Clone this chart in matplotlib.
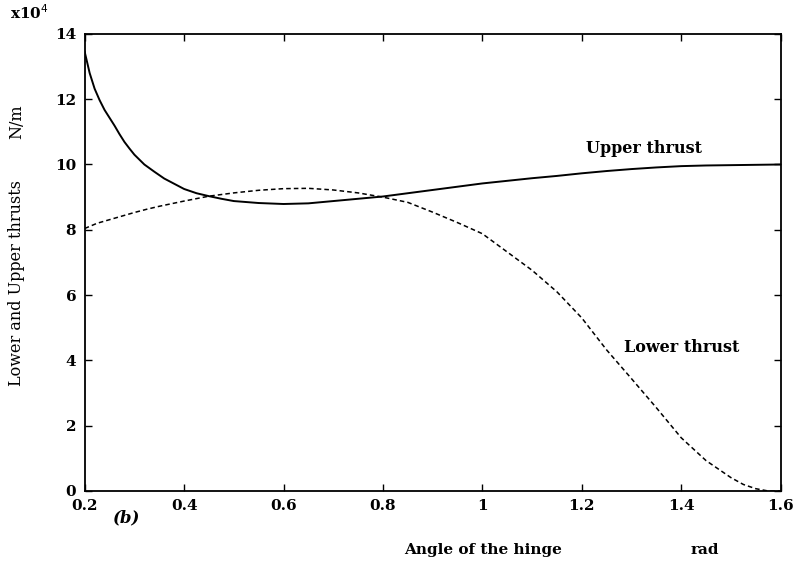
import matplotlib
matplotlib.use("Agg")
import matplotlib.pyplot as plt

# Upper thrust (solid)
upper_x = [0.2, 0.21, 0.22, 0.23, 0.24, 0.25, 0.26, 0.27, 0.28, 0.29, 0.3, 0.32,
           0.34, 0.36, 0.38, 0.4, 0.425, 0.45, 0.475, 0.5, 0.55, 0.6, 0.65, 0.7,
           0.75, 0.8, 0.85, 0.9, 0.95, 1.0, 1.05, 1.1, 1.15, 1.2, 1.25, 1.3,
           1.35, 1.4, 1.45, 1.5, 1.55, 1.6]
upper_y = [13.45, 12.8, 12.32, 11.97, 11.67, 11.43, 11.19, 10.93, 10.69, 10.49, 10.3, 10.0,
           9.78, 9.57, 9.41, 9.25, 9.12, 9.03, 8.95, 8.88, 8.82, 8.79, 8.81, 8.88,
           8.95, 9.02, 9.12, 9.22, 9.32, 9.42, 9.5, 9.58, 9.65, 9.73, 9.8, 9.86,
           9.91, 9.95, 9.97, 9.98, 9.99, 10.0]

# Lower thrust (dashed)
lower_x = [0.2, 0.225, 0.25, 0.275, 0.3, 0.325, 0.35, 0.375, 0.4, 0.45, 0.5, 0.55,
           0.6, 0.65, 0.7, 0.75, 0.8, 0.85, 0.9, 0.95, 1.0, 1.05, 1.1, 1.15,
           1.2, 1.25, 1.3, 1.35, 1.4, 1.45, 1.5, 1.525, 1.55, 1.575, 1.6]
lower_y = [8.04, 8.2, 8.31, 8.42, 8.53, 8.63, 8.72, 8.8, 8.88, 9.03, 9.13, 9.21,
           9.26, 9.27, 9.22, 9.13, 9.0, 8.84, 8.54, 8.22, 7.88, 7.32, 6.76, 6.1,
           5.3, 4.32, 3.44, 2.55, 1.63, 0.93, 0.41, 0.2, 0.07, 0.0, 0.0]

xticks = [0.2, 0.4, 0.6, 0.8, 1.0, 1.2, 1.4, 1.6]
xtick_labels = ["0.2", "0.4", "0.6", "0.8", "1", "1.2", "1.4", "1.6"]
yticks = [0, 2, 4, 6, 8, 10, 12, 14]

serif = "DejaVu Serif"

fig = plt.figure(figsize=(7.99, 5.65), dpi=100)
ax = fig.add_axes([0.106, 0.131, 0.871, 0.809])

ax.plot(upper_x, upper_y, color="black", linewidth=1.4)
ax.plot(lower_x, lower_y, color="black", linewidth=1.1, linestyle=(0, (3, 2)))

ax.set_xlim(0.2, 1.6)
ax.set_ylim(0, 14)
ax.set_xticks(xticks)
ax.set_xticklabels(xtick_labels)
ax.set_yticks(yticks)
ax.tick_params(direction="in", length=5, width=1, top=True, right=True,
               labelsize=11, pad=6)
for lab in ax.get_xticklabels() + ax.get_yticklabels():
    lab.set_fontfamily(serif)
    lab.set_fontweight("bold")
for s in ax.spines.values():
    s.set_linewidth(1.3)

ax.text(1.325, 10.5, "Upper thrust", fontfamily=serif, fontweight="bold",
        fontsize=11.5, ha="center", va="center")
ax.text(1.40, 4.4, "Lower thrust", fontfamily=serif, fontweight="bold",
        fontsize=11.5, ha="center", va="center")

fig.text(10 / 799, 1 - 13 / 565, r"x10$^{4}$", fontfamily=serif, fontweight="bold",
         fontsize=11, ha="left", va="center")
fig.text(17 / 799, 1 - 122 / 565, "N/m", fontfamily=serif, fontsize=11.5,
         rotation=90, ha="center", va="center")
fig.text(17 / 799, 1 - 283 / 565, "Lower and Upper thrusts", fontfamily=serif,
         fontsize=11.5, rotation=90, ha="center", va="center")
fig.text(483 / 799, 1 - 550 / 565, "Angle of the hinge", fontfamily=serif,
         fontweight="bold", fontsize=11, ha="center", va="center")
fig.text(705 / 799, 1 - 550 / 565, "rad", fontfamily=serif,
         fontweight="bold", fontsize=11, ha="center", va="center")
fig.text(127 / 799, 1 - 518 / 565, "(b)", fontfamily=serif, fontweight="bold",
         fontstyle="italic", fontsize=12, ha="center", va="center")

fig.savefig("out.png", dpi=100)
